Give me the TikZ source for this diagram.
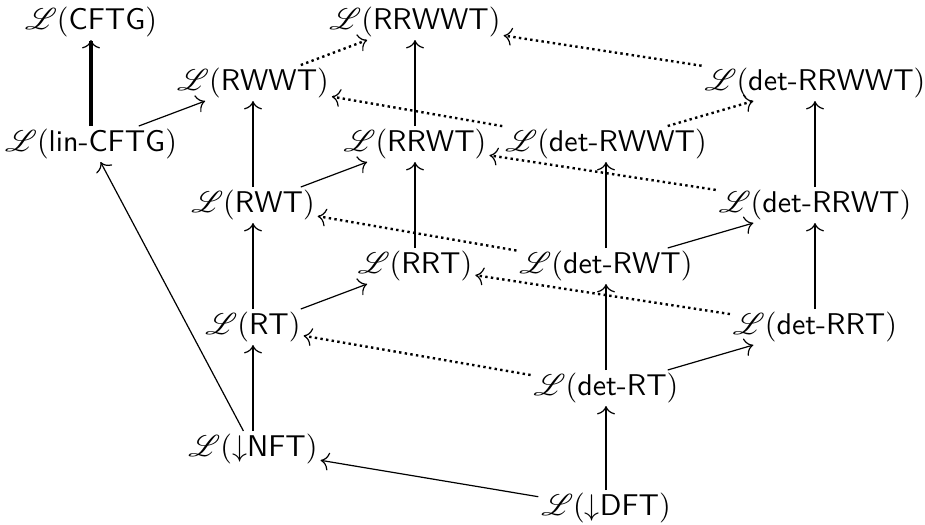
\documentclass[tikz,border=0pt]{standalone}
\usepackage{mathrsfs}
\usetikzlibrary{arrows.meta}
\newcommand{\Lang}[1]{$\mathscr{L}(\textsf{#1})$}
\newcommand{\LangD}[1]{$\mathscr{L}(\mathord{\downarrow}\textsf{#1})$}
\begin{document}
\begin{tikzpicture}[x=0.3333pt,y=-0.3333pt,
  lang/.style={inner sep=1pt, outer sep=0pt},
  tip/.style={-{To[line width=0.4pt, length=2.8pt, width=6pt]}},
  vert/.style={tip, line width=0.7pt},
  thickvert/.style={tip, line width=1.2pt},
  diag/.style={tip, line width=0.4pt},
  dots/.style={tip, line width=0.8pt, dash pattern=on 0.8pt off 1.1pt},
]
\useasboundingbox (0,0) rectangle (925,524);
% nodes
\node[lang] (CFTG)   at (91,22)   {\Lang{CFTG}};
\node[lang] (RRWWT)  at (415,22)  {\Lang{RRWWT}};
\node[lang] (RWWT)   at (253,83)  {\Lang{RWWT}};
\node[lang] (dRRWWT) at (815,83)  {\Lang{det-RRWWT}};
\node[lang] (lin)    at (91,144)  {\Lang{lin-CFTG}};
\node[lang] (RRWT)   at (415,144) {\Lang{RRWT}};
\node[lang] (dRWWT)  at (606,144) {\Lang{det-RWWT}};
\node[lang] (RWT)    at (253,205) {\Lang{RWT}};
\node[lang] (dRRWT)  at (815,205) {\Lang{det-RRWT}};
\node[lang] (RRT)    at (415,266) {\Lang{RRT}};
\node[lang] (dRWT)   at (606,266) {\Lang{det-RWT}};
\node[lang] (RT)     at (253,327) {\Lang{RT}};
\node[lang] (dRRT)   at (815,327) {\Lang{det-RRT}};
\node[lang] (dRT)    at (606,388) {\Lang{det-RT}};
\node[lang] (NFT)    at (253,449) {\LangD{NFT}};
\node[lang] (DFT)    at (606,508) {\LangD{DFT}};
% vertical arrows
\draw[thickvert] (lin) -- (CFTG);
\draw[vert] (RWT) -- (RWWT);
\draw[vert] (RT) -- (RWT);
\draw[vert] (NFT) -- (RT);
\draw[vert] (RRWT) -- (RRWWT);
\draw[vert] (RRT) -- (RRWT);
\draw[vert] (dRWT) -- (dRWWT);
\draw[vert] (dRT) -- (dRWT);
\draw[vert] (DFT) -- (dRT);
\draw[vert] (dRRWT) -- (dRRWWT);
\draw[vert] (dRRT) -- (dRRWT);
% solid diagonals
\draw[diag] (lin) -- (RWWT);
\draw[diag] (RWT) -- (RRWT);
\draw[diag] (RT) -- (RRT);
\draw[diag] (dRWT) -- (dRRWT);
\draw[diag] (dRT) -- (dRRT);
\draw[diag] (NFT) -- (lin);
\draw[diag] (DFT) -- (NFT);
% dotted
\draw[dots] (RWWT) -- (RRWWT);
\draw[dots] (dRRWWT) -- (RRWWT);
\draw[dots] (dRWWT) -- (RWWT);
\draw[dots] (dRWWT) -- (dRRWWT);
\draw[dots] (dRRWT) -- (RRWT);
\draw[dots] (dRWT) -- (RWT);
\draw[dots] (dRRT) -- (RRT);
\draw[dots] (dRT) -- (RT);
\end{tikzpicture}
\end{document}
